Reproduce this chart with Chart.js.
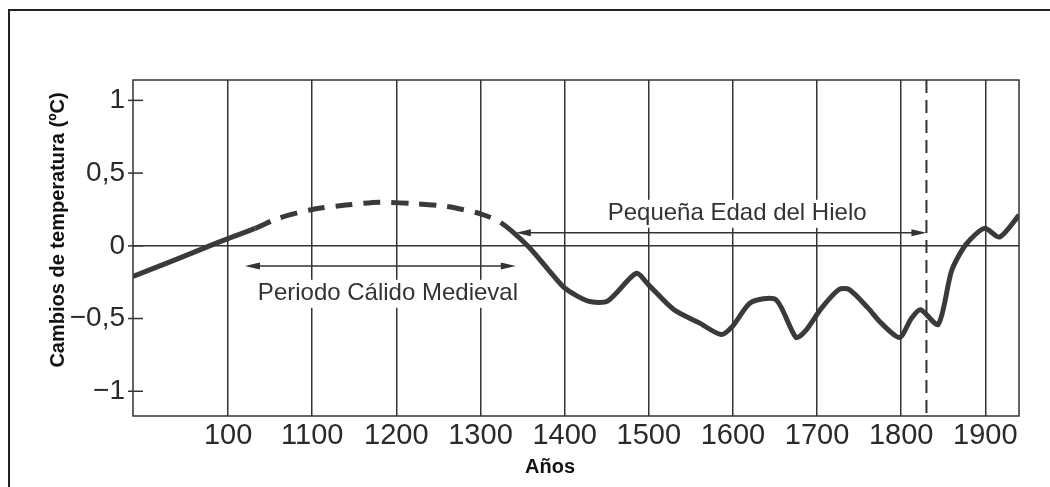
<!DOCTYPE html>
<html>
<head>
<meta charset="utf-8">
<script src="https://cdn.jsdelivr.net/npm/chart.js@4/dist/chart.umd.min.js"></script>
<style>
  html, body { margin: 0; padding: 0; background: #fff; }
  #wrap { width: 1050px; height: 487px; position: relative; }
</style>
</head>
<body>
<div id="wrap"><canvas id="tempChart"></canvas></div>
<script>
// años y cambios de temperatura
const years = [887, 940, 978, 1000, 1032, 1060, 1100, 1140, 1180, 1220, 1260, 1300, 1324, 1356, 1380, 1400, 1428, 1451, 1485, 1500, 1530, 1560, 1586, 1600, 1621, 1651, 1675, 1687, 1705, 1726, 1738, 1761, 1776, 1798, 1812, 1823, 1844, 1860, 1877, 1899, 1917, 1940];
const temps = [-0.21, -0.09, 0.0, 0.05, 0.12, 0.19, 0.25, 0.28, 0.30, 0.29, 0.27, 0.22, 0.16, 0.0, -0.16, -0.29, -0.38, -0.38, -0.19, -0.27, -0.44, -0.53, -0.61, -0.55, -0.39, -0.37, -0.63, -0.58, -0.43, -0.30, -0.30, -0.43, -0.53, -0.63, -0.50, -0.44, -0.54, -0.17, 0.01, 0.12, 0.06, 0.21];

// tramo incierto (línea discontinua)
const dashedFrom = 1032;
const dashedTo = 1324;

const xTickValues = [1000, 1100, 1200, 1300, 1400, 1500, 1600, 1700, 1800, 1900];
const xTickLabels = ["100", "1100", "1200", "1300", "1400", "1500", "1600", "1700", "1800", "1900"];
const yTickValues = [1, 0.5, 0, -0.5, -1];
const yTickLabels = ["1", "0,5", "0", "\u22120,5", "\u22121"];

// periodos marcados con flechas
const periodNames = ["Periodo Cálido Medieval", "Pequeña Edad del Hielo"];
const periodStart = [1020, 1342];
const periodEnd = [1342, 1830];
const periodArrowY = [-0.138, 0.09];
const periodLabelX = [1190, 1605];
const periodLabelY = [-0.33, 0.22];
const iceAgeEndYear = 1830;

const xTitle = "Años";
const yTitle = "Cambios de temperatura (ºC)";

const INK = "#333";
const FONT = "'Liberation Sans', Arial, Helvetica, sans-serif";

const points = years.map((y, i) => ({ x: y, y: temps[i] }));

function arrowHead(ctx, x, y, dir) {
    ctx.beginPath();
    ctx.moveTo(x, y);
    ctx.lineTo(x - dir * 15, y - 3.5);
    ctx.lineTo(x - dir * 15, y + 3.5);
    ctx.closePath();
    ctx.fill();
}

const extrasPlugin = {
    id: "extras",
    beforeDraw(chart) {
        const ctx = chart.ctx;
        ctx.save();
        // marco exterior de la figura
        ctx.strokeStyle = "#222";
        ctx.lineWidth = 2;
        ctx.beginPath();
        ctx.moveTo(9, 487);
        ctx.lineTo(9, 10);
        ctx.lineTo(1050, 10);
        ctx.stroke();

        // títulos de los ejes
        ctx.fillStyle = "#111";
        ctx.font = "bold 20px " + FONT;
        ctx.textAlign = "center";
        ctx.textBaseline = "middle";
        ctx.fillText(xTitle, 550, 467);
        ctx.translate(58, 230);
        ctx.rotate(-Math.PI / 2);
        ctx.fillText(yTitle, 0, 0);
        ctx.restore();
    },
    beforeDatasetsDraw(chart) {
        const { ctx, chartArea: a, scales: { x, y } } = chart;
        ctx.save();
        ctx.strokeStyle = INK;
        ctx.fillStyle = INK;
        ctx.lineWidth = 1.5;
        ctx.strokeRect(a.left, a.top, a.right - a.left, a.bottom - a.top);

        // marcas del eje y hacia dentro
        yTickValues.forEach(v => {
            const py = y.getPixelForValue(v);
            ctx.beginPath();
            ctx.moveTo(a.left - 5, py);
            ctx.lineTo(a.left + 10, py);
            ctx.stroke();
        });

        // línea discontinua del fin de la Pequeña Edad del Hielo
        const px = x.getPixelForValue(iceAgeEndYear);
        ctx.lineWidth = 2;
        ctx.setLineDash([13, 7]);
        ctx.beginPath();
        ctx.moveTo(px, a.top);
        ctx.lineTo(px, a.bottom);
        ctx.stroke();
        ctx.setLineDash([]);

        // etiquetas con fondo blanco y flechas
        ctx.font = "24px " + FONT;
        ctx.textAlign = "center";
        ctx.textBaseline = "middle";
        periodNames.forEach((name, i) => {
            const lx = x.getPixelForValue(periodLabelX[i]);
            const ly = y.getPixelForValue(periodLabelY[i]);
            const w = ctx.measureText(name).width;
            ctx.fillStyle = "#fff";
            ctx.fillRect(lx - w / 2 - 4, ly - 14, w + 8, 28);
            ctx.fillStyle = INK;
            ctx.fillText(name, lx, ly);

            const x0 = x.getPixelForValue(periodStart[i]);
            const x1 = x.getPixelForValue(periodEnd[i]);
            const ay = y.getPixelForValue(periodArrowY[i]);
            ctx.lineWidth = 1.5;
            ctx.beginPath();
            ctx.moveTo(x0 + 6, ay);
            ctx.lineTo(x1 - 6, ay);
            ctx.stroke();
            arrowHead(ctx, x0, ay, -1);
            arrowHead(ctx, x1, ay, 1);
        });
        ctx.restore();
    }
};

const isDashed = seg => seg.p0.parsed.x >= dashedFrom && seg.p1.parsed.x <= dashedTo;

new Chart(document.getElementById("tempChart"), {
    type: "line",
    data: {
        datasets: [{
            data: points,
            borderColor: "#3a3a3a",
            borderWidth: 5,
            pointRadius: 0,
            tension: 0.25,
            borderCapStyle: "butt",
            borderJoinStyle: "round",
            segment: {
                borderDash: seg => (isDashed(seg) ? [17, 11] : undefined),
            },
        }],
    },
    options: {
        responsive: true,
        maintainAspectRatio: false,
        animation: false,
        layout: { padding: { left: 20, top: 80, right: 31, bottom: 10 } },
        plugins: {
            legend: { display: false },
            tooltip: { enabled: false },
        },
        scales: {
            x: {
                type: "linear",
                min: 887,
                max: 1940,
                afterBuildTicks: axis => {
                    axis.ticks = xTickValues.map(v => ({ value: v }));
                },
                afterFit: axis => { axis.height = 61; },
                grid: { color: INK, lineWidth: 1.5, drawTicks: false },
                border: { display: false },
                ticks: {
                    color: "#2a2a2a",
                    font: { family: FONT, size: 29 },
                    padding: 3,
                    maxRotation: 0,
                    autoSkip: false,
                    callback: v => xTickLabels[xTickValues.indexOf(v)],
                },
            },
            y: {
                min: -1.17,
                max: 1.14,
                afterBuildTicks: axis => {
                    axis.ticks = yTickValues.map(v => ({ value: v }));
                },
                afterFit: axis => { axis.width = 113; },
                grid: {
                    drawTicks: false,
                    lineWidth: 1.5,
                    color: c => (c.tick && c.tick.value === 0 ? INK : "rgba(0,0,0,0)"),
                },
                border: { display: false },
                ticks: {
                    color: "#2a2a2a",
                    font: { family: FONT, size: 28 },
                    padding: 8,
                    callback: v => yTickLabels[yTickValues.indexOf(v)],
                },
            },
        },
    },
    plugins: [extrasPlugin],
});
</script>
</body>
</html>
